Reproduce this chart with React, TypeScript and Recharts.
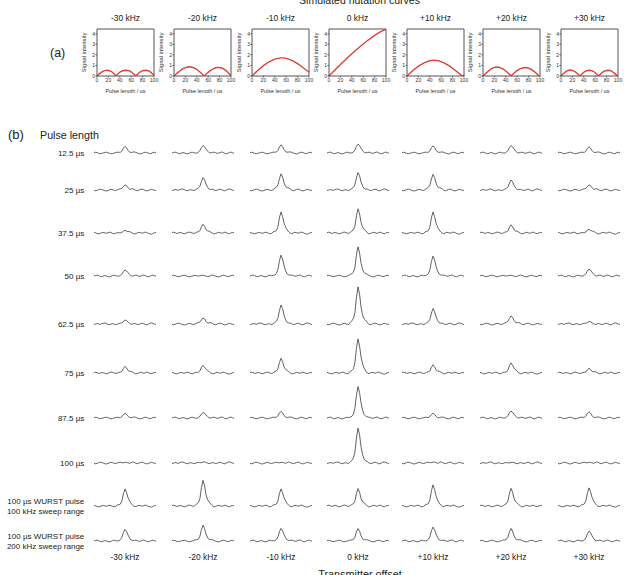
import React from 'react';
import { LineChart, Line, XAxis, YAxis, ReferenceLine } from 'recharts';

const FONT = '"Liberation Sans", Arial, Helvetica, sans-serif';

// Transmitter offsets (columns)
const offsetLabels = ['-30 kHz', '-20 kHz', '-10 kHz', '0 kHz', '+10 kHz', '+20 kHz', '+30 kHz'];

// Simulated nutation curves: [pulse length / µs, signal intensity]
const nutM30: [number, number][] = [[0,0],[4,0.2],[8,0.37],[12,0.49],[17,0.55],[22,0.5],[26,0.4],[30,0.22],[33.5,0],[37,0.22],[41,0.4],[46,0.52],[51,0.55],[56,0.51],[60,0.4],[64,0.22],[68,0],[72,0.22],[76,0.4],[80,0.51],[85,0.55],[90,0.5],[94,0.37],[97,0.22],[100,0.06]];
const nutM20: [number, number][] = [[0,0],[5,0.25],[10,0.48],[15,0.67],[20,0.8],[26,0.87],[32,0.83],[38,0.7],[43,0.5],[48,0.27],[52.6,0],[58,0.26],[63,0.48],[68,0.66],[73,0.78],[78,0.82],[84,0.76],[89,0.6],[94,0.38],[98,0.15],[100,0.05]];
const nutM10: [number, number][] = [[0,0],[10,0.52],[20,0.98],[30,1.35],[40,1.6],[50,1.72],[55,1.72],[60,1.67],[70,1.48],[80,1.17],[90,0.78],[100,0.35]];
const nut0: [number, number][] = [[0,0],[10,0.55],[20,1.08],[30,1.6],[40,2.1],[50,2.58],[60,3.03],[70,3.45],[80,3.84],[90,4.18],[100,4.45]];
const nutP10: [number, number][] = [[0,0],[10,0.5],[20,0.93],[30,1.25],[40,1.45],[47,1.5],[55,1.45],[65,1.25],[75,0.93],[85,0.52],[95,0.08],[97,0],[100,0.12]];
const nutP20: [number, number][] = [[0,0],[5,0.27],[10,0.5],[15,0.69],[20,0.81],[24.5,0.85],[30,0.8],[35,0.67],[40,0.48],[45,0.24],[49,0],[54,0.26],[59,0.48],[64,0.65],[69,0.76],[74,0.8],[79,0.76],[84,0.64],[89,0.46],[94,0.23],[98,0],[100,0.06]];
const nutP30: [number, number][] = [[0,0],[4,0.22],[8,0.4],[12,0.52],[16.5,0.56],[21,0.51],[25,0.4],[29,0.22],[33,0],[37,0.22],[41,0.4],[45,0.51],[49.5,0.55],[54,0.51],[58,0.4],[62,0.22],[66,0],[70,0.22],[74,0.4],[78,0.5],[82.5,0.54],[87,0.5],[91,0.38],[95,0.2],[99,0],[100,0.03]];
const nutationCurves = [nutM30, nutM20, nutM10, nut0, nutP10, nutP20, nutP30];

const pulseTicks = [0, 20, 40, 60, 80, 100];
const intensityTicks = [0, 1, 2, 3, 4];
const intensityMax = 4.45;

// Spectrum rows: excitation conditions
const rowLabels: string[][] = [
  ['12.5 µs'], ['25 µs'], ['37.5 µs'], ['50 µs'], ['62.5 µs'], ['75 µs'], ['87.5 µs'], ['100 µs'],
  ['100 µs WURST pulse', '100 kHz sweep range'],
  ['100 µs WURST pulse', '200 kHz sweep range'],
];

// Observed peak heights for each row, per transmitter offset (-30 … +30 kHz)
const peaks12p5 = [6.5, 7.5, 8, 9, 7, 7.5, 6];
const peaks25 = [5, 12.5, 16, 17.5, 15.5, 10, 5];
const peaks37p5 = [2.5, 8.5, 21, 24, 21, 8, 3.5];
const peaks50 = [6, 0.5, 21, 29, 20, 0.5, 7];
const peaks62p5 = [4, 6, 19, 37, 15.5, 8, 2.5];
const peaks75 = [6.5, 7.5, 14.5, 34, 8, 10, 4.5];
const peaks87p5 = [4.5, 5.5, 6.5, 31.5, 4.5, 7, 6];
const peaks100 = [0.5, 1, 0.5, 35, 0.8, 0.5, 0.5];
const peaksWurst100 = [17, 25.5, 17, 17.3, 21, 17.5, 18];
const peaksWurst200 = [11.7, 15.7, 12.7, 12.3, 14, 12.3, 10];
const peakRows = [peaks12p5, peaks25, peaks37p5, peaks50, peaks62p5, peaks75, peaks87p5, peaks100, peaksWurst100, peaksWurst200];

// Baseline noise traces (41 points across the spectral window)
const noiseA = [0.3,0.7,0.4,-0.3,-0.7,-0.4,0.1,0.5,0.8,0.3,-0.4,-0.8,-0.5,0.0,0.4,0.6,0.2,-0.1,0.1,0.3,0.2,0.0,-0.4,-0.7,-0.3,0.4,0.9,0.6,0.0,-0.5,-0.9,-0.4,0.3,0.8,0.5,-0.1,-0.7,-0.3,0.4,0.7,0.1];
const noiseB = [-0.4,-0.8,-0.3,0.4,0.8,0.5,-0.1,-0.7,-1.0,-0.5,0.1,0.7,0.4,-0.3,-0.5,0.0,0.5,0.7,0.2,-0.2,0.1,0.3,-0.1,-0.5,0.3,1.0,0.5,-0.3,-0.7,-0.1,0.5,0.9,0.4,-0.4,-0.9,-0.5,0.1,0.7,0.3,-0.4,-0.1];
const noiseC = [0.7,0.1,-0.5,-0.9,-0.4,0.3,0.5,0.1,-0.3,0.3,0.8,0.4,-0.4,-0.8,-0.3,0.4,0.1,-0.3,-0.1,0.2,0.1,-0.2,0.4,0.8,0.3,-0.5,-1.0,-0.6,0.1,0.7,0.4,-0.3,0.3,0.9,0.5,-0.3,-0.8,-1.1,-0.5,0.3,0.5];
const noiseD = [0.0,0.5,0.9,0.4,-0.4,-0.7,-0.1,0.4,0.1,-0.5,-0.9,-0.3,0.5,0.8,0.3,-0.3,-0.6,-0.2,0.2,0.1,-0.1,0.2,0.6,0.1,-0.7,-0.4,0.3,0.8,0.4,-0.3,-0.1,0.4,1.0,0.5,-0.4,-0.8,-0.3,0.5,0.9,0.3,-0.3];
const noiseE = [-0.5,-0.1,0.4,0.1,-0.3,0.3,0.8,1.0,0.4,-0.4,-0.7,-0.1,0.3,-0.1,-0.6,-0.4,0.2,0.4,0.0,-0.3,0.0,0.3,0.1,-0.4,-0.8,-0.3,0.4,0.1,-0.5,-0.3,0.4,0.8,0.3,-0.5,-0.8,-0.1,0.7,1.1,0.6,-0.1,-0.5];
const noiseF = [0.4,0.8,0.3,-0.4,-0.1,0.5,0.3,-0.4,-0.8,-0.3,0.4,0.9,0.6,0.0,-0.5,-0.3,0.3,0.1,-0.3,0.0,0.2,-0.1,-0.5,0.1,0.7,0.3,-0.4,-0.9,-0.5,0.1,0.7,0.3,-0.3,0.1,0.8,0.4,-0.4,-0.7,0.0,0.5,0.3];
const noiseTraces = [noiseA, noiseB, noiseC, noiseD, noiseE, noiseF];

// Normalised line shape of the resonance, starting at point 15 (maximum at point 20)
const peakStart = 15;
const peakShape = [0.04, 0.07, 0.13, 0.3, 0.72, 1.0, 0.8, 0.45, 0.24, 0.13, 0.07, 0.03];

// ---- layout ----
const panelLefts = [97, 174, 252, 329, 407, 483, 561];
const panelW = 57;
const panelTop = 29;
const panelH = 47;
const colCenters = [125, 203, 281, 358, 433, 511, 589];
const rowBaseY = [153, 190, 233, 276, 324, 373, 418, 463, 506, 541];
const SPEC_W = 62;
const SPEC_TOP = 42; // units above baseline shown
const SPEC_BOTTOM = 8; // units below baseline shown

const axisColor = '#555';
const textColor = '#222';

function NutationPanel({ curve, left }: { curve: [number, number][]; left: number }) {
  const yAxisW = 24;
  const xAxisH = 17;
  const mTop = 3;
  const mRight = 6;
  const data = curve.map(([t, v]) => ({ t, v }));
  return (
    <div style={{ position: 'absolute', left: left - yAxisW, top: panelTop - mTop }}>
      <LineChart
        width={yAxisW + panelW + mRight}
        height={mTop + panelH + xAxisH}
        data={data}
        margin={{ top: mTop, right: mRight, bottom: 0, left: 0 }}
      >
        <XAxis
          type="number"
          dataKey="t"
          domain={[0, 100]}
          ticks={pulseTicks}
          interval={0}
          height={xAxisH}
          tickSize={1.5}
          tickMargin={0.5}
          stroke={axisColor}
          tick={{ fontSize: 5, fill: '#333', fontFamily: FONT }}
          label={{ value: 'Pulse length / µs', position: 'insideBottom', offset: 0, fontSize: 5.4, fill: '#333', fontFamily: FONT }}
        />
        <YAxis
          type="number"
          domain={[0, intensityMax]}
          ticks={intensityTicks}
          interval={0}
          width={yAxisW}
          tickSize={1.5}
          tickMargin={0.5}
          stroke={axisColor}
          allowDataOverflow
          tick={{ fontSize: 5, fill: '#333', fontFamily: FONT }}
          label={{ value: 'Signal intensity', angle: -90, position: 'insideLeft', offset: 11.3, fontSize: 5.9, fill: '#333', fontFamily: FONT, style: { textAnchor: 'middle' } }}
        />
        <ReferenceLine x={100} stroke={axisColor} />
        <ReferenceLine y={intensityMax} stroke={axisColor} />
        <Line type="linear" dataKey="v" stroke="#e0403a" strokeWidth={1.4} dot={false} isAnimationActive={false} />
      </LineChart>
    </div>
  );
}

function Spectrum({ row, col }: { row: number; col: number }) {
  const noise = noiseTraces[(row * 7 + col * 3) % noiseTraces.length];
  const h = peakRows[row][col];
  const data = noise.map((n, i) => {
    const k = i - peakStart;
    const s = k >= 0 && k < peakShape.length ? peakShape[k] : 0;
    return { i, v: n + h * s };
  });
  return (
    <div style={{ position: 'absolute', left: colCenters[col] - SPEC_W / 2, top: rowBaseY[row] - SPEC_TOP }}>
      <LineChart width={SPEC_W} height={SPEC_TOP + SPEC_BOTTOM} data={data} margin={{ top: 0, right: 0, bottom: 0, left: 0 }}>
        <XAxis type="number" dataKey="i" domain={[0, noise.length - 1]} hide />
        <YAxis type="number" domain={[-SPEC_BOTTOM, SPEC_TOP]} hide allowDataOverflow />
        <Line type="linear" dataKey="v" stroke="#505050" strokeWidth={0.9} dot={false} isAnimationActive={false} />
      </LineChart>
    </div>
  );
}

export default function App() {
  return (
    <div style={{ position: 'absolute', left: 0, top: 0, width: 627, height: 575, overflow: 'hidden', background: '#fff', fontFamily: FONT }}>
      {nutationCurves.map((c, i) => (
        <NutationPanel key={i} curve={c} left={panelLefts[i]} />
      ))}
      {peakRows.map((r, ri) => r.map((_, ci) => <Spectrum key={`${ri}-${ci}`} row={ri} col={ci} />))}
      <svg width={627} height={575} style={{ position: 'absolute', left: 0, top: 0, pointerEvents: 'none' }} fontFamily={FONT} fill={textColor}>
        <text x={359.5} y={3.5} fontSize={10.5} textAnchor="middle">Simulated nutation curves</text>
        {offsetLabels.map((l, i) => (
          <text key={`t${i}`} x={panelLefts[i] + panelW / 2} y={21.3} fontSize={8.4} textAnchor="middle">{l}</text>
        ))}
        <text x={50} y={57} fontSize={12.5}>(a)</text>
        <text x={8} y={139} fontSize={13}>(b)</text>
        <text x={40} y={138.8} fontSize={10.7}>Pulse length</text>
        {rowLabels.map((lines, ri) =>
          lines.length === 1 ? (
            <text key={`r${ri}`} x={84.3} y={rowBaseY[ri] + 3.3} fontSize={8} textAnchor="end">{lines[0]}</text>
          ) : (
            <g key={`r${ri}`}>
              <text x={84.3} y={rowBaseY[ri] - 2.5} fontSize={8} textAnchor="end">{lines[0]}</text>
              <text x={84.3} y={rowBaseY[ri] + 7.5} fontSize={8} textAnchor="end">{lines[1]}</text>
            </g>
          )
        )}
        {offsetLabels.map((l, i) => (
          <text key={`b${i}`} x={colCenters[i]} y={560} fontSize={8.4} textAnchor="middle">{l}</text>
        ))}
        <text x={360} y={578.4} fontSize={10.8} textAnchor="middle">Transmitter offset</text>
      </svg>
    </div>
  );
}
